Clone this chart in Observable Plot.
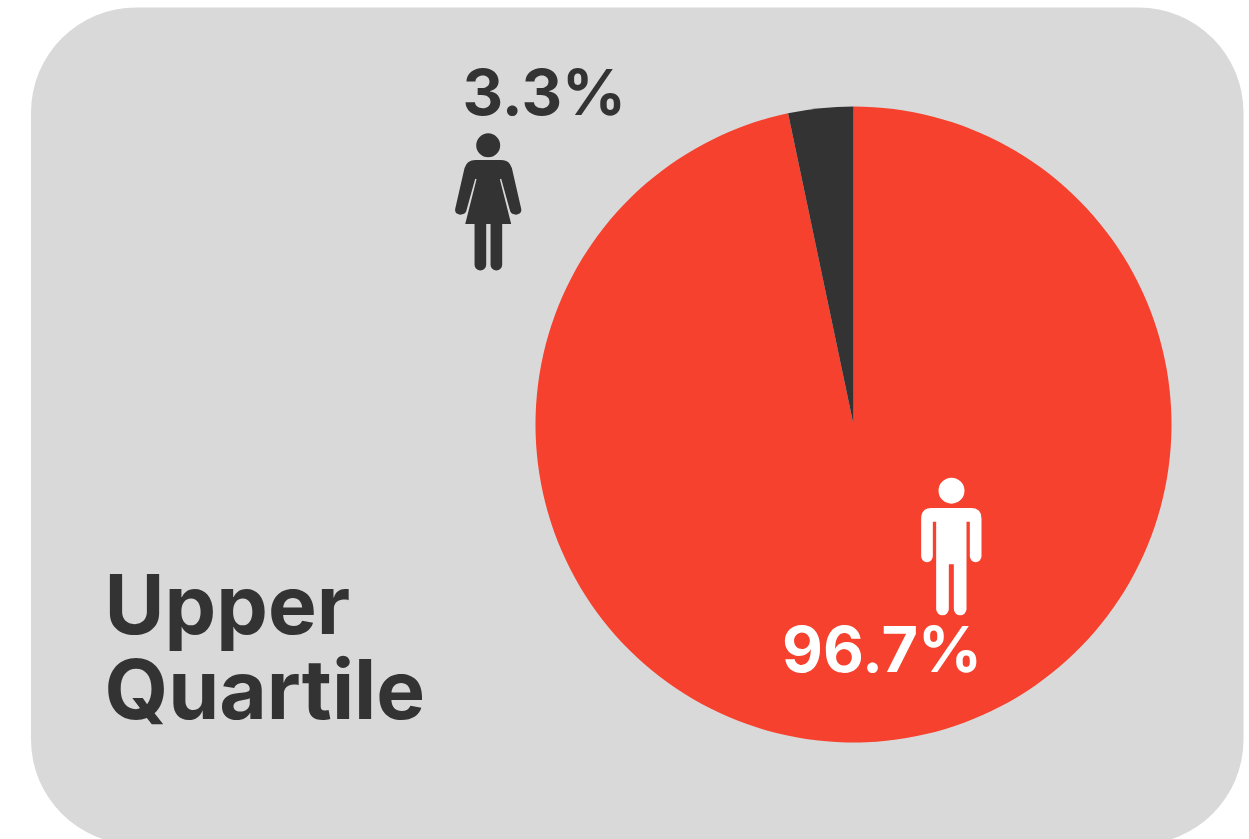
<!DOCTYPE html>
<html>
<head>
<meta charset="utf-8">
<title>Upper Quartile</title>
<script src="https://cdn.jsdelivr.net/npm/d3@7"></script>
<script src="https://cdn.jsdelivr.net/npm/@observablehq/plot@0.6"></script>
<style>
  html, body { margin: 0; padding: 0; background: #fff; overflow: hidden; }
  svg { display: block; }
</style>
</head>
<body>
<script>
// Gender split of the upper pay quartile, in percent.
const groups = ["Men", "Women"];
const shares = [96.7, 3.3];
const sliceColors = ["#F5412D", "#333333"];
const quartileName = "Upper\nQuartile";

const slices = groups.map((group, i) => ({group, share: shares[i], color: sliceColors[i]}));
const percent = (d) => `${d.share.toFixed(1)}%`;
const men = slices[0];
const women = slices[1];

// Pie wedges: angles from d3.pie, centre and radius from the plot's x scale.
function pieWedges(index, scales, values, dimensions, context) {
  const angles = d3.pie().sort(null).value((d) => d.share)(slices);
  const radius = scales.x(1) - scales.x(0);
  const arc = d3.arc().innerRadius(0).outerRadius(radius);
  const g = d3.select(context.document.createElementNS("http://www.w3.org/2000/svg", "g"))
    .attr("transform", `translate(${scales.x(0)},${scales.y(0)})`);
  g.selectAll("path")
    .data(angles)
    .join("path")
    .attr("d", arc)
    .attr("fill", (d) => d.data.color);
  return g.node();
}

// Pictograms as Plot dot symbols. Outlines are drawn on a 3× grid around the
// figure's middle, then scaled by the dot's radius.
function pictogram(halfHeight, outline) {
  return {
    draw(context, size) {
      const r = Math.sqrt(size / Math.PI);
      outline(context, r / halfHeight);
    }
  };
}

const womanSymbol = pictogram(205, (c, s) => {
  const P = (x, y) => [x * s, y * s];
  // head
  c.moveTo(...P(36, -170));
  c.arc(0, -170 * s, 36 * s, 0, 2 * Math.PI);
  c.closePath();
  // shoulders, dress and arms
  c.moveTo(...P(-38, -126));
  c.lineTo(...P(38, -126));
  c.quadraticCurveTo(...P(64, -126), ...P(71, -102));
  c.lineTo(...P(99, 20));
  c.quadraticCurveTo(...P(102, 36), ...P(84, 38));
  c.quadraticCurveTo(...P(70, 38), ...P(66, 28));
  c.lineTo(...P(39, -70));
  c.lineTo(...P(35, -68));
  c.lineTo(...P(69, 66));
  c.lineTo(...P(-69, 66));
  c.lineTo(...P(-35, -68));
  c.lineTo(...P(-39, -70));
  c.lineTo(...P(-66, 28));
  c.quadraticCurveTo(...P(-70, 38), ...P(-84, 38));
  c.quadraticCurveTo(...P(-102, 36), ...P(-99, 20));
  c.lineTo(...P(-71, -102));
  c.quadraticCurveTo(...P(-64, -126), ...P(-38, -126));
  c.closePath();
  // legs
  for (const [a, b] of [[-41, -6], [7, 42]]) {
    c.moveTo(...P(b, 60));
    c.lineTo(...P(b, 188));
    c.arc((a + b) / 2 * s, 188 * s, (b - a) / 2 * s, 0, Math.PI);
    c.lineTo(...P(a, 60));
    c.closePath();
  }
});

const manSymbol = pictogram(207, (c, s) => {
  const P = (x, y) => [x * s, y * s];
  // head
  c.moveTo(...P(39, -169));
  c.arc(0, -169 * s, 39 * s, 0, 2 * Math.PI);
  c.closePath();
  // shoulders, arms, torso and legs as a single outline
  c.moveTo(...P(-60, -117));
  c.lineTo(...P(60, -117));
  c.quadraticCurveTo(...P(90, -117), ...P(90, -85));
  c.lineTo(...P(90, 28));
  c.arc(72.5 * s, 28 * s, 17.5 * s, 0, Math.PI);
  c.lineTo(...P(55, -76));
  c.lineTo(...P(45, -76));
  c.lineTo(...P(45, 186));
  c.arc(26 * s, 186 * s, 19 * s, 0, Math.PI);
  c.lineTo(...P(7, 52));
  c.lineTo(...P(-8, 52));
  c.lineTo(...P(-8, 186));
  c.arc(-27 * s, 186 * s, 19 * s, 0, Math.PI);
  c.lineTo(...P(-46, -76));
  c.lineTo(...P(-56, -76));
  c.lineTo(...P(-56, 28));
  c.arc(-73.5 * s, 28 * s, 17.5 * s, 0, Math.PI);
  c.lineTo(...P(-91, -85));
  c.quadraticCurveTo(...P(-91, -117), ...P(-60, -117));
  c.closePath();
});

const labelStyle = {
  frameAnchor: "top-left",
  textAnchor: "start",
  lineAnchor: "bottom",
  fontFamily: "Inter, sans-serif",
  fontWeight: 700
};

const chart = Plot.plot({
  width: 1249,
  height: 839,
  margin: 0,
  axis: null,
  x: {domain: [-1, 1], range: [535.5, 1171.5]},
  y: {domain: [-1, 1], range: [742.5, 106.5]},
  marks: [
    // Rounded panel; its lower edge runs past the bottom of the picture.
    Plot.frame({
      fill: "#D9D9D9",
      stroke: null,
      rx: 105,
      insetLeft: 30.5,
      insetTop: 7,
      insetRight: 6,
      insetBottom: -5
    }),
    Plot.dot(slices, {x: () => 0, y: () => 0, r: 1, fill: "none", render: pieWedges}),
    Plot.dot([women], {
      frameAnchor: "top-left",
      dx: 487.7,
      dy: 201.5,
      r: 68.3,
      symbol: womanSymbol,
      fill: "#333333"
    }),
    Plot.dot([men], {
      frameAnchor: "top-left",
      dx: 951,
      dy: 546.5,
      r: 69,
      symbol: manSymbol,
      fill: "#FFFFFF"
    }),
    Plot.text([women], {
      ...labelStyle,
      text: percent,
      dx: 462,
      dy: 114.5,
      fontSize: 63,
      fill: "#333333"
    }),
    Plot.text([men], {
      ...labelStyle,
      text: percent,
      dx: 781.5,
      dy: 671.5,
      fontSize: 63,
      fill: "#FFFFFF"
    }),
    Plot.text([quartileName], {
      ...labelStyle,
      text: (d) => d,
      dx: 104,
      dy: 718.5,
      fontSize: 82,
      lineHeight: 1.04,
      fill: "#333333"
    })
  ]
});

document.body.append(chart);
</script>
</body>
</html>
